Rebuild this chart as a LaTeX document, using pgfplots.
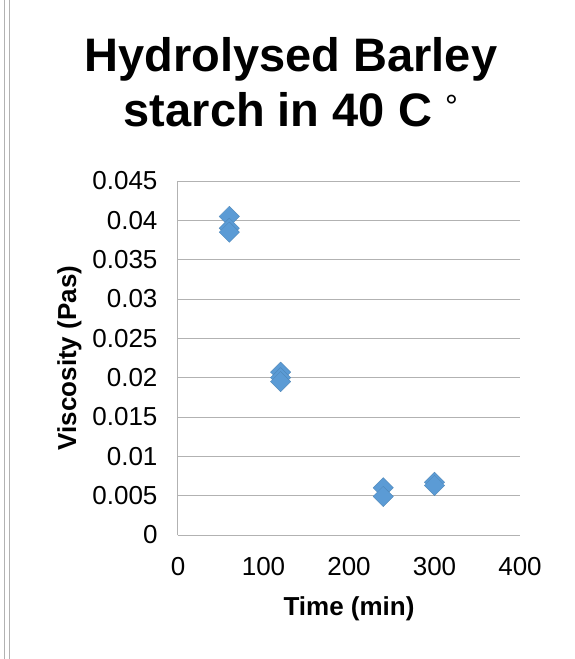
\documentclass[border=0pt]{standalone}
\usepackage{fontspec}
\setmainfont{Liberation Sans}
\usepackage{pgfplots}
\pgfplotsset{compat=1.18}
\definecolor{mk}{HTML}{5B9BD5}
\begin{document}
\begin{tikzpicture}
\path[use as bounding box, fill=white] (-178pt,-124pt) rectangle (397pt,535pt);
\draw[gray!60, line width=1pt] (-173pt,-124pt) -- (-173pt,535pt);
\draw[gray!60, line width=1pt] (-168pt,-124pt) -- (-168pt,535pt);
\begin{axis}[
  at={(0pt,0pt)}, anchor=origin,
  scale only axis, width=342pt, height=354pt,
  xmin=0, xmax=400, ymin=0, ymax=0.045,
  xtick={0,100,...,400}, ytick={0,0.005,...,0.045},
  scaled y ticks=false,
  /pgf/number format/assume math mode=true,
  yticklabel style={/pgf/number format/fixed, /pgf/number format/precision=3, xshift=-17pt},
  xticklabel style={yshift=-19pt},
  ticklabel style={font=\fontsize{26}{29}\selectfont},
  major tick length=0pt,
  ymajorgrids, grid style={gray!60, line width=1pt},
  axis x line*=bottom, axis y line*=left,
  axis line style={gray!60, line width=1pt, -},
  title={Hydrolysed Barley\\starch in 40 C\ \raisebox{9pt}{\fontsize{32}{32}\mdseries °}},
  title style={font=\bfseries\fontsize{47}{55}\selectfont, align=center, at={(0.33,1)}, yshift=45pt},
  xlabel={Time (min)}, ylabel={Viscosity (Pas)},
  label style={font=\bfseries\fontsize{26}{30}\selectfont},
  xlabel style={yshift=-14pt},
  ylabel style={yshift=4pt},
]
\addplot[only marks, mark=square*, mark size=7.2pt, color=mk, mark options={rotate=45, fill=mk, draw=mk!85!black, line width=0.3pt}] coordinates {
(60,0.0405) (60,0.0390) (60,0.0385)
(120,0.0207) (120,0.0200) (120,0.0195)
(240,0.0060) (240,0.0049)
(300,0.0067) (300,0.0063)
};
\end{axis}
\end{tikzpicture}
\end{document}
